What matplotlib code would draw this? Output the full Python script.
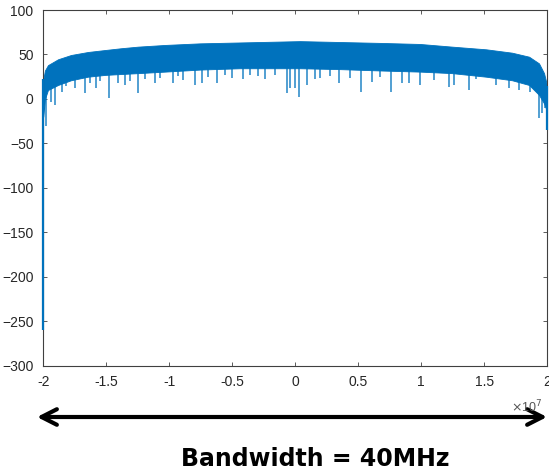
import numpy as np
import matplotlib
matplotlib.use("Agg")
import matplotlib.pyplot as plt

# ---- data (frequency in units of 1e7 Hz, magnitude in dB) ----
env_x = [-2.0, -1.987, -1.963, -1.883, -1.780, -1.645, -1.510, -1.383, -1.248, -1.034,
         -0.756, -0.439, -0.121, 0.037, 0.355, 0.672, 0.990, 1.244, 1.514, 1.720,
         1.855, 1.934, 1.974, 2.0]
env_upper = [22, 32, 38, 44.6, 49.4, 52.8, 55, 57, 58.8, 60.7,
             62.5, 63.5, 64.5, 65, 64, 63, 61.8, 58.8, 55.8, 52,
             47.5, 40, 29, 14]
env_lower = [-20, 0, 10, 15.7, 21, 25, 27, 28, 29, 30.7,
             33, 34.5, 34.5, 34.5, 33.5, 32, 30.7, 29, 25, 21,
             15.7, 4.5, -5, -15]

spike_x = [-1.976, -1.937, -1.910, -1.852, -1.820, -1.751, -1.671, -1.629, -1.582, -1.550,
           -1.481, -1.407, -1.354, -1.313, -1.248, -1.193, -1.116, -1.074,
           -0.968, -0.931, -0.891, -0.796, -0.743, -0.693, -0.624, -0.558, -0.505,
           -0.415, -0.360, -0.296, -0.241, -0.161, -0.068, -0.042,
           0.0, 0.027, 0.093, 0.156, 0.196, 0.275, 0.344, 0.433, 0.524, 0.609,
           0.672, 0.762, 0.847, 0.900, 0.990,
           1.101, 1.220, 1.260, 1.379, 1.434, 1.591, 1.696, 1.776, 1.863,
           1.934, 1.960, 1.982]
spike_y = [-31, -3, -6.7, 8, 14, 12, 6.4, 18, 12, 20,
           0.8, 17.6, 15.7, 20, 6.4, 22, 17.6, 24,
           17.6, 26, 21, 15.7, 17.6, 25, 17.6, 27, 24,
           22, 27, 26, 22, 27, 6.4, 12,
           12, 2.6, 15.7, 22, 24, 26, 17.6, 24, 8.2, 19.5,
           25, 8.2, 17.6, 17.6, 15.7,
           21, 13.8, 15.7, 10, 22, 15.7, 12, 10, 8,
           -21, -16, -10]

left_edge = (-2.0, -260, 22)
right_edge = (2.0, -35, 14)

x_ticks = [-2, -1.5, -1, -0.5, 0, 0.5, 1, 1.5, 2]
x_ticklabels = ['-2', '-1.5', '-1', '-0.5', '0', '0.5', '1', '1.5', '2']
y_ticks = [-300, -250, -200, -150, -100, -50, 0, 50, 100]

SCALE = 1e7
BLUE = '#0072BD'
AXC = '#404040'

plt.rcParams['font.family'] = ['Liberation Sans', 'DejaVu Sans']

fig = plt.figure(figsize=(5.49, 4.72), dpi=100)
ax = fig.add_axes([43.3/549, (472-365.7)/472, (547.3-43.3)/549, (365.7-10)/472])

ex = np.array(env_x) * SCALE
ax.fill_between(ex, env_lower, env_upper, color=BLUE, lw=0.6, zorder=2)

sx = np.array(spike_x) * SCALE
stop = np.interp(sx, ex, env_lower) + 3
ax.vlines(sx, spike_y, stop, color=BLUE, lw=1.2, alpha=0.8, zorder=2)

ax.vlines([left_edge[0]*SCALE], left_edge[1], left_edge[2], color=BLUE, lw=1.6,
          zorder=3, clip_on=False)
ax.vlines([right_edge[0]*SCALE], right_edge[1], right_edge[2], color=BLUE, lw=1.6,
          zorder=3, clip_on=False)

ax.set_xlim(-2*SCALE, 2*SCALE)
ax.set_ylim(-300, 100)
ax.set_xticks([t*SCALE for t in x_ticks])
ax.set_xticklabels(x_ticklabels)
ax.set_yticks(y_ticks)
ax.tick_params(direction='in', top=True, right=True, length=3, width=0.6,
               color=AXC, labelcolor='#262626', labelsize=10, pad=7)
for s in ax.spines.values():
    s.set_color(AXC)
    s.set_linewidth(0.8)

fig.text(527/549, 1-407/472, r'$\times$10$^{7}$', color='#555555', fontsize=9,
         ha='center', va='center')

y_arrow = 1 - 417/472
ax.annotate('', xy=(547/549, y_arrow), xytext=(37/549, y_arrow),
            xycoords='figure fraction', textcoords='figure fraction',
            arrowprops=dict(arrowstyle='<->,head_length=0.55,head_width=0.28',
                            lw=3, color='black', mutation_scale=20,
                            shrinkA=0, shrinkB=0))

fig.text(315/549, 1-466/472, 'Bandwidth = 40MHz', fontsize=17, fontweight='bold',
         family=['DejaVu Sans'], ha='center', va='baseline', color='black')

fig.savefig('out.png', dpi=100)
